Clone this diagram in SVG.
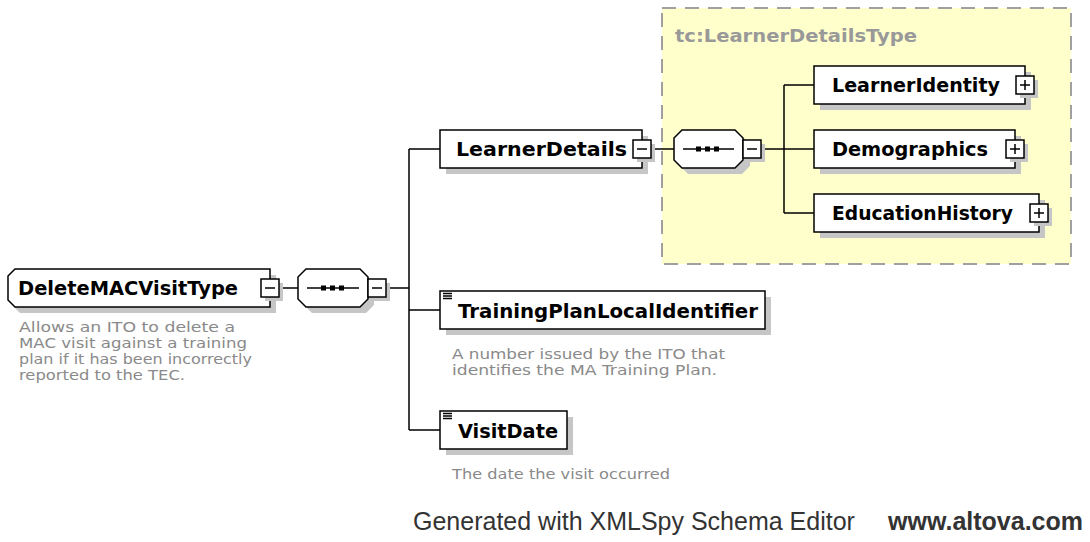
<svg xmlns="http://www.w3.org/2000/svg" width="1090" height="542" viewBox="0 0 1090 542">
<defs>
<style>
.box{fill:#fff;stroke:#000;stroke-width:1.5}
.shadow{fill:#c6c6c6}
.line{stroke:#000;stroke-width:1.5;fill:none}
.lbl{font-family:"DejaVu Sans",Verdana,sans-serif;font-weight:bold;font-size:19px;fill:#000}
.desc{font-family:"DejaVu Sans",Verdana,sans-serif;font-size:14px;fill:#8a8a8a}
.foot{font-family:"Liberation Sans",Arial,sans-serif;font-size:25px;fill:#333}
</style>
</defs>
<rect width="1090" height="542" fill="#fff"/>

<g id="complexType-group">
<rect x="662" y="8" width="409" height="256" fill="#ffffcc" stroke="#a0a0a0" stroke-width="2" stroke-dasharray="14 9"/>
<text x="675" y="42" font-family="DejaVu Sans,Verdana,sans-serif" font-weight="bold" font-size="17" fill="#999" textLength="242" lengthAdjust="spacingAndGlyphs">tc:LearnerDetailsType</text>
</g>

<g id="connectors">
<path class="line" d="M279 288H298"/>
<path class="line" d="M386 288H409M409 149V430M409 149H440M409 310H440M409 430H440"/>
<path class="line" d="M651 149H674"/>
<path class="line" d="M761 149H784M784 85V213M784 85H814M784 213H814"/>
<path class="line" d="M784 149H814"/>
</g>

<g id="DeleteMACVisitType">
<path class="shadow" d="M14 275H276V313H20L14 307Z"/>
<path class="box" d="M15 269H270V307H15L8 300V276Z"/>
<text class="lbl" x="18" y="295" textLength="220" lengthAdjust="spacingAndGlyphs">DeleteMACVisitType</text>
<rect class="shadow" x="265" y="283" width="18" height="18"/>
<rect class="box" x="261" y="279" width="18" height="18"/>
<path class="line" d="M265 288H275"/>
<text class="desc" x="19" y="332" textLength="216" lengthAdjust="spacingAndGlyphs">Allows an ITO to delete a</text>
<text class="desc" x="19" y="348" textLength="228" lengthAdjust="spacingAndGlyphs">MAC visit against a training</text>
<text class="desc" x="19" y="364" textLength="233" lengthAdjust="spacingAndGlyphs">plan if it has been incorrectly</text>
<text class="desc" x="19" y="380" textLength="166" lengthAdjust="spacingAndGlyphs">reported to the TEC.</text>
</g>

<g id="sequence1">
<path class="shadow" d="M312 275H366L374 283V305L366 313H312L304 305V283Z"/>
<path class="box" d="M306 269H360L368 277V299L360 307H306L298 299V277Z"/>
<path class="line" d="M307 288H359"/>
<rect x="321" y="285.5" width="5" height="5"/>
<rect x="330" y="285.5" width="5" height="5"/>
<rect x="339" y="285.5" width="5" height="5"/>
<rect class="shadow" x="372" y="283" width="18" height="18"/>
<rect class="box" x="368" y="279" width="18" height="18"/>
<path class="line" d="M372 288H382"/>
</g>

<g id="LearnerDetails">
<rect class="shadow" x="446" y="136" width="202" height="38"/>
<rect class="box" x="440" y="130" width="202" height="38"/>
<text class="lbl" x="456" y="156" textLength="171" lengthAdjust="spacingAndGlyphs">LearnerDetails</text>
<rect class="shadow" x="637" y="144" width="18" height="18"/>
<rect class="box" x="633" y="140" width="18" height="18"/>
<path class="line" d="M637 149H647"/>
</g>

<g id="sequence2">
<path class="shadow" d="M688 136H742L750 144V166L742 174H688L680 166V144Z"/>
<path class="box" d="M682 130H735L743 138V160L735 168H682L674 160V138Z"/>
<path class="line" d="M683 149H734"/>
<rect x="696" y="146.5" width="5" height="5"/>
<rect x="705" y="146.5" width="5" height="5"/>
<rect x="714" y="146.5" width="5" height="5"/>
<rect class="shadow" x="747" y="144" width="18" height="18"/>
<rect class="box" x="743" y="140" width="18" height="18"/>
<path class="line" d="M747 149H757"/>
</g>

<g id="LearnerIdentity">
<rect class="shadow" x="820" y="72" width="211" height="38"/>
<rect class="box" x="814" y="66" width="211" height="38"/>
<text class="lbl" x="832" y="92" textLength="168" lengthAdjust="spacingAndGlyphs">LearnerIdentity</text>
<rect class="shadow" x="1020" y="80" width="18" height="18"/>
<rect class="box" x="1016" y="76" width="18" height="18"/>
<path class="line" d="M1020 85H1030M1025 80V90"/>
</g>

<g id="Demographics">
<rect class="shadow" x="820" y="136" width="201" height="38"/>
<rect class="box" x="814" y="130" width="201" height="38"/>
<text class="lbl" x="832" y="156" textLength="156" lengthAdjust="spacingAndGlyphs">Demographics</text>
<rect class="shadow" x="1010" y="144" width="18" height="18"/>
<rect class="box" x="1006" y="140" width="18" height="18"/>
<path class="line" d="M1010 149H1020M1015 144V154"/>
</g>

<g id="EducationHistory">
<rect class="shadow" x="820" y="200" width="225" height="38"/>
<rect class="box" x="814" y="194" width="225" height="38"/>
<text class="lbl" x="832" y="220" textLength="181" lengthAdjust="spacingAndGlyphs">EducationHistory</text>
<rect class="shadow" x="1034" y="208" width="18" height="18"/>
<rect class="box" x="1030" y="204" width="18" height="18"/>
<path class="line" d="M1034 213H1044M1039 208V218"/>
</g>

<g id="TrainingPlanLocalIdentifier">
<rect class="shadow" x="446" y="297" width="325" height="38"/>
<rect class="box" x="440" y="291" width="325" height="38"/>
<path class="line" d="M443 293.5H452M443 296H452M443 298.5H452" stroke-width="1.2"/>
<text class="lbl" x="458" y="318" textLength="300" lengthAdjust="spacingAndGlyphs">TrainingPlanLocalIdentifier</text>
<text class="desc" x="452" y="359" textLength="273" lengthAdjust="spacingAndGlyphs">A number issued by the ITO that</text>
<text class="desc" x="452" y="375" textLength="265" lengthAdjust="spacingAndGlyphs">identifies the MA Training Plan.</text>
</g>

<g id="VisitDate">
<rect class="shadow" x="446" y="417" width="127" height="38"/>
<rect class="box" x="440" y="411" width="127" height="38"/>
<path class="line" d="M443 413.5H452M443 416H452M443 418.5H452" stroke-width="1.2"/>
<text class="lbl" x="458" y="438" textLength="100" lengthAdjust="spacingAndGlyphs">VisitDate</text>
<text class="desc" x="452" y="479" textLength="218" lengthAdjust="spacingAndGlyphs">The date the visit occurred</text>
</g>

<g id="footer">
<text class="foot" x="413" y="530">Generated with XMLSpy Schema Editor</text>
<text class="foot" x="1083" y="530" text-anchor="end" font-weight="bold">www.altova.com</text>
</g>
</svg>
